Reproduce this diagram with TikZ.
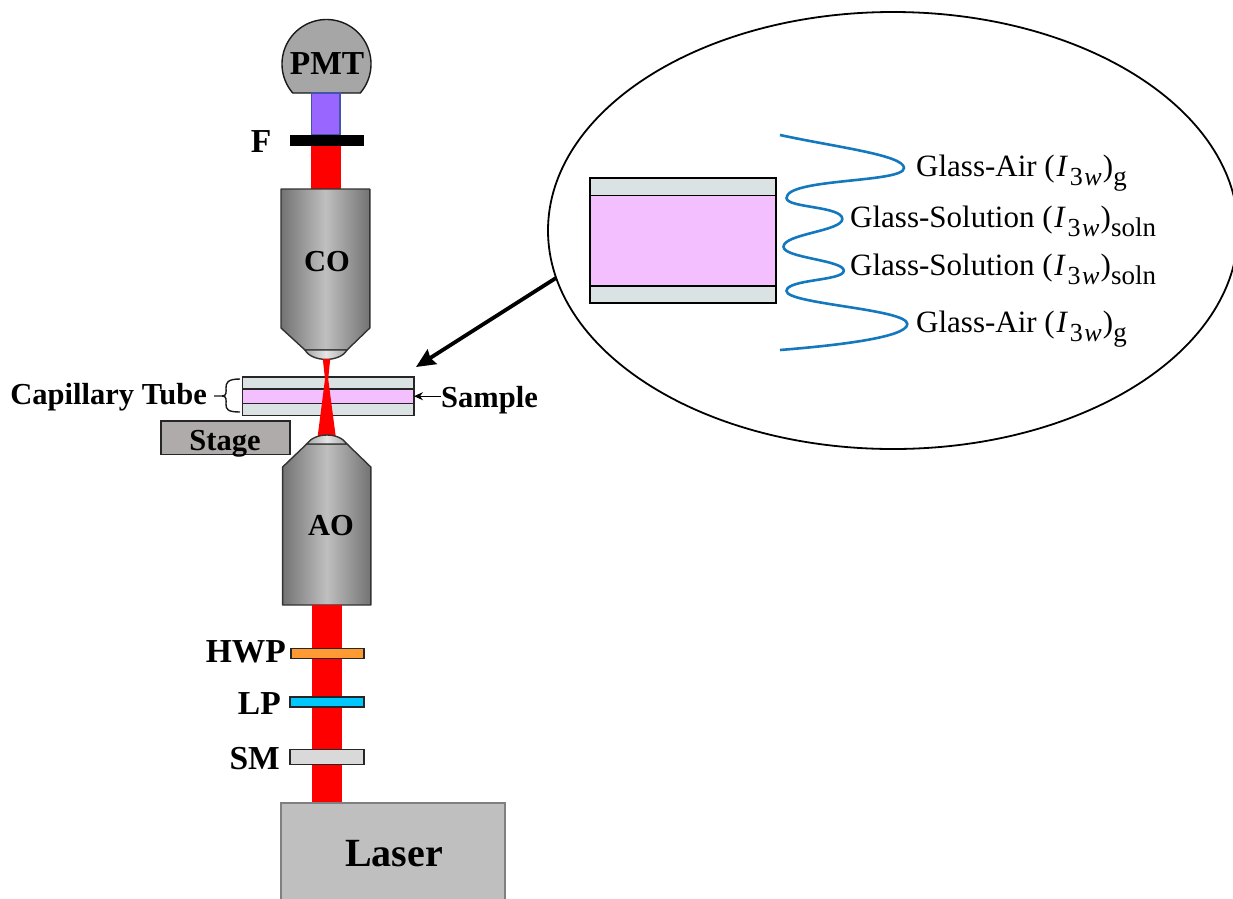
\documentclass[tikz,border=0pt]{standalone}
\usepackage{fontspec}
\setmainfont{Liberation Serif}
\usetikzlibrary{shapes.geometric,arrows.meta}
\definecolor{glass}{HTML}{DAE2E3}
\definecolor{pinkfill}{HTML}{F4BFFF}
\definecolor{beam}{HTML}{FF0000}
\definecolor{curve}{HTML}{1478BE}
\definecolor{uvfill}{RGB}{153,102,255}
\definecolor{uvline}{RGB}{68,84,170}
\newcommand{\Ith}[1]{(\kern.06em\textit{I}\kern.05em\raisebox{-0.3em}{\scalebox{.84}{3\kern.06em\textit{w}}}\kern.04em)\raisebox{-0.3em}{\scalebox{.87}{#1}}}
\tikzset{
  lab/.style={font=\bfseries\fontsize{30.5}{31}\selectfont,inner sep=0pt,text=black},
  biglab/.style={font=\bfseries\fontsize{33.5}{34}\selectfont,inner sep=0pt,text=black},
  glab/.style={font=\fontsize{31}{32}\selectfont,inner sep=0pt,anchor=base west},
  plate/.style={draw=black!85,line width=1.4pt,inner sep=0pt,outer sep=0pt,rectangle},
  objective/.style={draw=black!80,line width=1.4pt,left color=black!55,right color=black!55,middle color=black!25,line join=round},
  lensfill/.style={draw=black!80,line width=1.4pt,left color=black!35,right color=black!35,middle color=black!10},
  ray/.style={fill=beam,draw=none}
}
\begin{document}
\begin{tikzpicture}[x=1pt,y=-1pt]
\useasboundingbox (0,0) rectangle (1233,898);
\clip (0,0) rectangle (1233,898);
% PMT
\draw[fill=black!35,draw=black!90,line width=1.4pt] plot[domain=40.7:-220.7,samples=80] ({326.5+44.5*cos(\x)},{64+44.5*sin(\x)}) -- cycle;
\node[biglab,anchor=base] (pmt) at (327,74.5) {PMT};
% upper beam
\node[draw=uvline,line width=1.2pt,fill=uvfill,inner sep=0pt,minimum width=28.5pt,minimum height=42pt] (uv) at (325.7,114) {};
\path[ray] (311,145) rectangle (340.5,190);
\node[fill=black,inner sep=0pt,minimum width=74pt,minimum height=10.5pt] (filter) at (327,140.3) {};
\node[biglab,anchor=base] (flab) at (261,152) {F};
% CO
\draw[objective] (281,189) -- (369.8,189) -- (369.8,328) -- (347,350) -- (305,350) -- (281,328) -- cycle;
\draw[lensfill] (305,350) .. controls (312,362.5) and (340,362.5) .. (347,350) -- cycle;
\node[lab,anchor=base] (co) at (327,271) {CO};
% capillary
\node[plate,fill=glass,minimum width=171.5pt,minimum height=38.8pt] (cap) at (328.2,396.2) {};
\node[plate,fill=pinkfill,minimum width=171.5pt,minimum height=14.2pt] (sol) at (328.2,396.2) {};
% focused beam
\path[ray] (322.8,359) -- (330.2,359) -- (328.2,379) -- (335.8,437) -- (317.6,437) -- (325,379) -- cycle;
% AO
\draw[objective] (306.7,444) -- (347,444) -- (370.8,467) -- (370.8,605) -- (282.6,605) -- (282.6,467) -- cycle;
\draw[lensfill] (306.7,444) .. controls (315,432) and (339,432) .. (347,444) -- cycle;
\node[lab,anchor=base] (ao) at (331,535) {AO};
% stage
\node[plate,fill={rgb,255:red,175;green,171;blue,171},minimum width=129pt,minimum height=33.5pt] (stage) at (225.3,437.7) {};
\node[lab,anchor=base] (stagelab) at (225,450) {Stage};
% capillary labels
\node[lab,anchor=base east] (captube) at (207,404) {Capillary Tube};
\node[lab,anchor=base west] (sample) at (441,407) {Sample};
\draw[-{Stealth[length=9pt,width=8pt]},line width=1pt] (sample.west |- cap.east) -- (cap.east);
\coordinate (bracetip) at (214,396);
\draw[line width=1.4pt,black!90] (bracetip) -- (222,396) .. controls (227,396) and (226,392) .. (226,388) .. controls (226,383) and (227,379) .. (240,379);
\draw[line width=1.4pt,black!90] (222,396) .. controls (227,396) and (226,400) .. (226,404) .. controls (226,409) and (227,412) .. (240,412);
% lower beam
\path[ray] (312.4,605) rectangle (342.3,804);
\node[plate,fill={rgb,255:red,255;green,153;blue,51},minimum width=73pt,minimum height=10pt] (hwp) at (327.5,653.2) {};
\node[plate,fill={rgb,255:red,0;green,200;blue,255},minimum width=74pt,minimum height=10pt] (lp) at (327,701.8) {};
\node[plate,fill=black!15,minimum width=74pt,minimum height=15pt] (sm) at (327,757) {};
\node[biglab,anchor=base east] (hwplab) at (286,662) {HWP};
\node[biglab,anchor=base east] (lplab) at (281,714) {LP};
\node[biglab,anchor=base east] (smlab) at (280,769) {SM};
% laser
\draw[fill=black!25,draw=black!50,line width=1.4pt] (281,803) rectangle (505,905);
\node[font=\bfseries\fontsize{40}{40}\selectfont,inner sep=0pt,anchor=base] (laser) at (394,866) {Laser};
% ellipse
\node[draw=black,line width=1.8pt,ellipse,inner sep=0pt,outer sep=0pt,minimum width=690pt,minimum height=437pt] (ell) at (893,230.5) {};
\coordinate (armtip) at (416,367);
\draw[-{Stealth[length=19pt,width=17pt,inset=2pt]},line width=3.8pt] (ell.188.7) -- (armtip);
% inset
\node[plate,draw=black,line width=1.2pt,fill=glass,minimum width=186pt,minimum height=125pt] (inglass) at (683,240.5) {};
\node[plate,draw=black,line width=1.2pt,fill=pinkfill,minimum width=186pt,minimum height=90.5pt] (insol) at (683,240.5) {};
\draw[line width=2.2pt] (insol.south west) -- (insol.south east);
\draw[curve,line width=2.6pt] (780,135) .. controls (835,147) and (904,155) .. (904,168)
 .. controls (904,183) and (786.5,178) .. (786.5,198)
 .. controls (786.5,208) and (842.3,206) .. (842.3,219)
 .. controls (842.3,231) and (783.5,234) .. (783.5,246.7)
 .. controls (783.5,258) and (843.8,260) .. (843.8,270.7)
 .. controls (843.8,281) and (786.5,279) .. (786.5,291)
 .. controls (786.5,304) and (907.3,309) .. (907.3,324)
 .. controls (907.3,338) and (830,346) .. (780,350);
\node[glab] (g1) at (916,176) {Glass-Air \Ith{g}};
\node[glab] (g2) at (850,227.5) {Glass-Solution \Ith{soln}};
\node[glab] (g3) at (850,275) {Glass-Solution \Ith{soln}};
\node[glab] (g4) at (916,332) {Glass-Air \Ith{g}};
\end{tikzpicture}
\end{document}
